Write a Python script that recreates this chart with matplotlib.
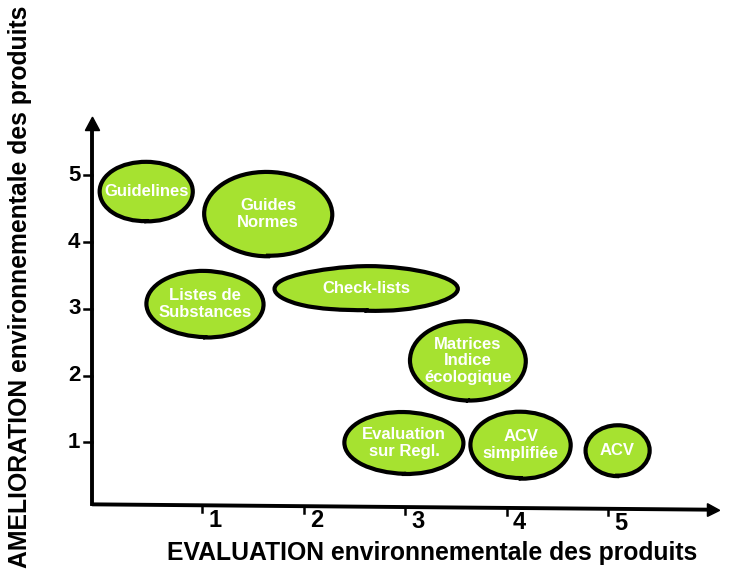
import matplotlib.pyplot as plt
from matplotlib.patches import Ellipse, Polygon

# bubbles: label, x centre, y centre, width, height (data units)
labels = ['Guidelines', 'Guides\nNormes', 'Listes de\nSubstances', 'Check-lists',
          'Matrices\nIndice\nécologique', 'Evaluation\nsur Regl.', 'ACV\nsimplifiée', 'ACV']
cx = [0.45, 1.65, 1.03, 2.62, 3.62, 2.99, 4.14, 5.09]
cy = [4.76, 4.42, 3.07, 3.30, 2.22, 0.99, 0.96, 0.88]
bw = [0.91, 1.27, 1.15, 1.81, 1.14, 1.17, 0.98, 0.63]
bh = [0.90, 1.25, 1.00, 0.66, 1.19, 0.93, 1.01, 0.76]

xticks = [1, 2, 3, 4, 5]
yticks = [1, 2, 3, 4, 5]
xlabel = 'EVALUATION environnementale des produits'
ylabel = 'AMELIORATION environnementale des produits'

green = '#a6e230'
bold = dict(family=['Liberation Sans', 'DejaVu Sans'], weight='bold')
narrow = dict(family=['Liberation Sans Narrow', 'Liberation Sans', 'DejaVu Sans'], weight='bold')

fig = plt.figure(figsize=(7.38, 5.73), dpi=100)
ax = fig.add_axes([0.1157, 0.1, 0.8594, 0.699])
ax.set_xlim(-0.15, 6.1)
ax.set_ylim(-0.1, 5.9)
ax.axis('off')

# bubbles
for lab, x, y, w, h in zip(labels, cx, cy, bw, bh):
    e = Ellipse((x, y), w, h, facecolor=green, edgecolor='black', lw=3)
    e.set_sketch_params(0.6, 150, 2)
    ax.add_patch(e)
    ax.text(x, y, lab, ha='center', va='center', color='white', fontsize=12,
            linespacing=1.1, **bold)

# hand drawn axes
ax.plot([-0.08, 6.02], [0.07, -0.01], color='black', lw=2.8, solid_capstyle='round',
        clip_on=False)
ax.plot([-0.08, -0.08], [0.07, 5.75], color='black', lw=2.8, clip_on=False)
ax.add_patch(Polygon([[5.98, 0.08], [6.1, -0.02], [5.98, -0.11]], closed=True,
                     color='black', clip_on=False))
ax.add_patch(Polygon([[-0.15, 5.67], [-0.08, 5.87], [-0.01, 5.67]], closed=True,
                     color='black', clip_on=False))

for t in xticks:
    yb = 0.07 - 0.08 * t / 6.1
    ax.plot([t, t], [yb, yb - 0.1], color='black', lw=1.8, clip_on=False)
    ax.text(t + 0.06, yb - 0.05, str(t), ha='left', va='top', fontsize=17, **narrow)

for t in yticks:
    ax.plot([-0.16, -0.08], [t, t], color='black', lw=1.8, clip_on=False)
    ax.text(-0.2, t, str(t), ha='right', va='center', fontsize=16, **bold)

fig.text(0.585, 0.035, xlabel, ha='center', va='center', fontsize=17.8, **narrow)
fig.text(0.027, 0.5, ylabel, ha='center', va='center', rotation=90, fontsize=17.8,
         **bold)

fig.savefig('out.png', dpi=100, facecolor='white')
